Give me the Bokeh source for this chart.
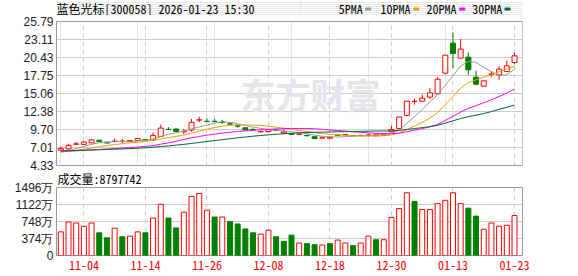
from bokeh.plotting import figure
from bokeh.layouts import column
from bokeh.models import (Range1d, FixedTicker, Label, Grid, ColumnDataSource,
                          NumeralTickFormatter, BoxAnnotation)
from bokeh.embed import file_html
from bokeh.resources import INLINE

# ---------------- data ----------------
dates = ["10-30", "10-31", "11-03", "11-04", "11-05", "11-06", "11-07", "11-10", "11-11", "11-12",
         "11-13", "11-14", "11-17", "11-18", "11-19", "11-20", "11-21", "11-24", "11-25", "11-26",
         "11-27", "11-28", "12-01", "12-02", "12-03", "12-04", "12-05", "12-08", "12-09", "12-10",
         "12-11", "12-12", "12-15", "12-16", "12-17", "12-18", "12-19", "12-22", "12-23", "12-24",
         "12-25", "12-26", "12-29", "12-30", "12-31", "01-05", "01-06", "01-07", "01-08", "01-09",
         "01-12", "01-13", "01-14", "01-15", "01-16", "01-19", "01-20", "01-21", "01-22", "01-23"]

opens = [6.62, 6.80, 7.50, 7.48, 7.70, 8.10, 7.80, 7.92, 7.93, 7.88,
         8.05, 8.20, 8.15, 8.67, 9.72, 9.77, 9.36, 9.62, 11.10, 10.92,
         10.92, 10.80, 10.55, 10.25, 9.95, 9.72, 9.35, 9.37, 9.62, 9.15,
         9.05, 8.98, 8.82, 8.62, 8.43, 8.40, 8.88, 8.90, 8.80, 8.78,
         8.84, 8.75, 8.85, 9.35, 9.85, 11.80, 13.88, 13.92, 14.52, 15.01,
         18.09, 22.56, 20.33, 20.48, 17.49, 16.15, 17.90, 17.84, 18.34, 19.68]
highs = [7.17, 7.58, 7.85, 7.95, 8.30, 8.15, 7.85, 8.35, 8.30, 8.10,
         8.40, 8.28, 9.24, 10.42, 10.05, 9.82, 9.77, 11.27, 11.60, 11.37,
         11.30, 11.15, 10.77, 10.50, 10.00, 9.85, 9.55, 9.80, 9.70, 9.70,
         9.10, 9.10, 8.95, 8.65, 8.50, 8.58, 8.92, 9.00, 8.85, 8.85,
         9.10, 8.95, 9.05, 10.24, 11.60, 13.95, 14.27, 14.91, 15.86, 17.50,
         20.80, 24.15, 23.21, 21.17, 18.49, 16.95, 18.34, 19.08, 19.93, 21.17]
lows = [6.55, 6.75, 7.40, 7.45, 7.65, 7.88, 7.60, 7.75, 7.65, 7.85,
        8.00, 8.05, 8.05, 8.60, 9.65, 9.35, 8.97, 9.37, 10.77, 10.85,
        10.80, 10.55, 10.30, 9.95, 9.60, 9.50, 9.25, 9.30, 9.45, 9.10,
        8.90, 8.85, 8.65, 8.30, 8.38, 8.38, 8.80, 8.85, 8.70, 8.75,
        8.65, 8.72, 8.82, 9.30, 9.80, 11.65, 13.40, 13.85, 14.22, 14.95,
        17.94, 18.84, 20.30, 17.84, 16.25, 16.15, 17.49, 17.10, 18.30, 19.40]
closes = [6.88, 7.33, 7.55, 7.82, 8.15, 7.92, 7.68, 7.96, 7.95, 8.05,
          8.35, 8.12, 8.82, 9.91, 9.70, 9.40, 9.42, 10.77, 11.14, 10.88,
          10.87, 10.77, 10.50, 10.20, 9.65, 9.68, 9.40, 9.67, 9.57, 9.35,
          8.95, 9.00, 8.77, 8.33, 8.46, 8.55, 8.84, 8.95, 8.75, 8.82,
          8.87, 8.90, 9.00, 9.68, 11.55, 13.92, 13.90, 14.37, 15.16, 17.20,
          20.77, 21.02, 21.67, 18.59, 16.45, 16.95, 17.96, 18.69, 19.18, 20.67]

ma5 = [6.35, 6.55, 6.85, 7.15, 7.50, 7.72, 7.80, 7.90, 7.92, 7.90,
       7.98, 8.08, 8.28, 8.65, 8.98, 9.20, 9.45, 9.82, 10.08, 10.35,
       10.62, 10.85, 10.78, 10.55, 10.30, 10.05, 9.85, 9.70, 9.58, 9.48,
       9.35, 9.25, 9.08, 8.85, 8.68, 8.60, 8.58, 8.62, 8.70, 8.77,
       8.84, 8.86, 8.88, 9.05, 9.60, 10.61, 11.61, 12.68, 13.78, 14.91,
       16.28, 17.70, 19.16, 19.85, 19.70, 18.94, 18.32, 17.73, 17.85, 18.69]
ma10 = [6.30, 6.45, 6.60, 6.76, 6.95, 7.12, 7.30, 7.45, 7.58, 7.70,
        7.80, 7.90, 8.08, 8.30, 8.50, 8.66, 8.88, 9.15, 9.45, 9.75,
        9.98, 10.18, 10.32, 10.38, 10.36, 10.35, 10.30, 10.18, 10.05, 9.90,
        9.72, 9.55, 9.40, 9.22, 9.08, 8.97, 8.90, 8.83, 8.76, 8.71,
        8.72, 8.72, 8.75, 8.88, 9.19, 9.70, 10.20, 10.75, 11.40, 12.20,
        13.40, 14.60, 15.85, 16.70, 17.10, 17.50, 17.85, 18.30, 18.70, 19.10]
ma20 = [6.45, 6.50, 6.52, 6.58, 6.64, 6.72, 6.78, 6.85, 6.92, 7.00,
        7.08, 7.17, 7.30, 7.50, 7.70, 7.95, 8.20, 8.45, 8.65, 8.85,
        9.00, 9.15, 9.28, 9.40, 9.50, 9.58, 9.65, 9.72, 9.78, 9.82,
        9.85, 9.85, 9.84, 9.80, 9.72, 9.62, 9.55, 9.45, 9.35, 9.28,
        9.20, 9.12, 9.08, 9.08, 9.15, 9.36, 9.59, 9.82, 10.10, 10.45,
        11.05, 11.65, 12.30, 12.85, 13.25, 13.68, 14.12, 14.61, 15.13, 15.73]
ma30 = [6.50, 6.53, 6.56, 6.60, 6.64, 6.68, 6.72, 6.76, 6.80, 6.85,
        6.90, 6.97, 7.05, 7.15, 7.25, 7.36, 7.48, 7.62, 7.76, 7.90,
        8.05, 8.18, 8.32, 8.46, 8.58, 8.70, 8.80, 8.90, 8.98, 9.06,
        9.13, 9.20, 9.25, 9.28, 9.30, 9.32, 9.36, 9.38, 9.40, 9.42,
        9.45, 9.47, 9.48, 9.50, 9.56, 9.70, 9.84, 9.97, 10.11, 10.32,
        10.65, 10.99, 11.33, 11.60, 11.83, 12.07, 12.37, 12.70, 13.00, 13.35]

# volume in 万 (10k)
volumes = [520, 737, 715, 643, 715, 499, 390, 600, 412, 426,
           520, 499, 824, 1127, 824, 607, 954, 1301, 1366, 997,
           846, 846, 744, 694, 585, 499, 470, 556, 412, 311,
           448, 275, 260, 238, 231, 260, 340, 275, 217, 275,
           426, 347, 347, 838, 1033, 1380, 1192, 1012, 1012, 1142,
           1214, 1380, 1142, 1041, 867, 578, 715, 643, 665, 879.7742]
vol_up = [1, 1, 1, 1, 1, 0, 0, 1, 0, 1,
          1, 0, 1, 1, 0, 0, 1, 1, 1, 1,
          0, 1, 0, 0, 0, 0, 1, 1, 0, 0,
          0, 1, 0, 0, 1, 0, 1, 1, 0, 1,
          1, 0, 1, 1, 1, 1, 0, 1, 1, 1,
          1, 1, 1, 0, 0, 1, 1, 1, 1, 1]

price_ticks = [4.33, 7.01, 9.70, 12.38, 15.06, 17.75, 20.43, 23.11, 25.79]
vol_ticks = [0, 374, 748, 1122, 1496]
date_ticks = ["11-04", "11-14", "11-26", "12-08", "12-18", "12-30", "01-13", "01-23"]
title_text = "蓝色光标[300058] 2026-01-23 15:30"
ma_names = ["5PMA", "10PMA", "20PMA", "30PMA"]
ma_colors = ["#999999", "#f0a000", "#ff00ff", "#006633"]
volume_text = "成交量:8797742"

# ---------------- styling ----------------
RED = "#ff0000"
GREEN = "#008000"
GRID = "#cccccc"
FRAME = "#999999"
W = 578
LEFT = 56
RIGHT = 56
CJK = "Noto Sans CJK SC"
MONO = "Noto Sans Mono CJK SC"
NUM = "Liberation Sans"

n = len(dates)
xs = list(range(n))
tick_idx = [dates.index(d) for d in date_ticks]
x_range = Range1d(-0.56, n + 0.04)

# ---------------- header (title + MA legend) ----------------
# header x axis is in page pixels so the texts line up with the panels below
HEAD_H = 15
h = figure(width=W, height=HEAD_H, x_range=Range1d(LEFT, W - RIGHT), y_range=Range1d(HEAD_H, 0),
           x_axis_location=None, y_axis_location=None, toolbar_location=None,
           output_backend="svg", min_border_left=LEFT, min_border_right=RIGHT,
           min_border_top=0, min_border_bottom=0, title_location=None)
h.outline_line_color = None
h.background_fill_color = "white"
h.border_fill_color = "white"
h.add_layout(Label(x=56, y=8.3, text=title_text, text_font=MONO, text_font_size="12px",
                   text_color="#000000", text_baseline="middle"))
leg_text_x = [338.3, 380, 426, 471.7]
leg_mark_x = [364.7, 412.7, 458.7, 504]
for name, c, tx, mx in zip(ma_names, ma_colors, leg_text_x, leg_mark_x):
    h.add_layout(Label(x=tx, y=8.3, text=name, text_font=MONO, text_font_size="12px",
                       text_color="#000000", text_baseline="middle"))
    h.add_layout(BoxAnnotation(left=mx, right=mx + 6, top=7, bottom=10, fill_color=c,
                               fill_alpha=1, line_color=None))

# ---------------- price panel ----------------
up = [c >= o for o, c in zip(opens, closes)]
csrc = ColumnDataSource(dict(
    x=xs, h=highs, l=lows,
    top=[max(o, c) for o, c in zip(opens, closes)],
    bot=[min(o, c) for o, c in zip(opens, closes)],
    col=[RED if u else GREEN for u in up],
    fill=["white" if u else GREEN for u in up],
))

p = figure(width=W, height=156, x_range=x_range,
           y_range=Range1d(price_ticks[0], price_ticks[-1]),
           x_axis_location=None, toolbar_location=None, output_backend="svg",
           min_border_left=LEFT, min_border_right=RIGHT, min_border_top=6, min_border_bottom=6,
           title_location=None)
p.outline_line_color = FRAME
p.outline_line_width = 1
p.background_fill_color = "white"
p.border_fill_color = "white"
p.yaxis.ticker = FixedTicker(ticks=price_ticks)
p.yaxis.formatter = NumeralTickFormatter(format="0.00")
p.yaxis.major_tick_in = 0
p.yaxis.major_tick_out = 0
p.yaxis.minor_tick_line_color = None
p.yaxis.axis_line_color = None
p.yaxis.major_label_standoff = 3
p.yaxis.major_label_text_font = NUM
p.yaxis.major_label_text_font_size = "12px"
p.yaxis.major_label_text_color = "#222222"
p.ygrid.grid_line_color = GRID
p.add_layout(Grid(dimension=0, ticker=FixedTicker(ticks=tick_idx),
                  grid_line_color=GRID, grid_line_dash="4 4"))

# watermark
p.add_layout(Label(x=184, y=72, x_units="screen", y_units="screen", text="东方财富",
                   text_font=CJK, text_font_size="35px", text_font_style="bold",
                   text_color="#e6e6ea", text_baseline="middle", level="underlay"))

p.segment(x0="x", y0="h", x1="x", y1="l", line_color="col", line_width=1, source=csrc)
p.vbar(x="x", width=0.65, top="top", bottom="bot", fill_color="fill",
       line_color="col", line_width=1, source=csrc)

for ma, c in zip([ma5, ma10, ma20, ma30], ma_colors):
    p.line(xs, ma, line_color=c, line_width=1)

# ---------------- volume panel ----------------
vsrc = ColumnDataSource(dict(
    x=xs, v=volumes,
    col=[RED if u else GREEN for u in vol_up],
    fill=["white" if u else GREEN for u in vol_up],
))
v = figure(width=W, height=105, x_range=x_range, y_range=Range1d(vol_ticks[0], vol_ticks[-1]),
           toolbar_location=None, output_backend="svg",
           min_border_left=LEFT, min_border_right=RIGHT, min_border_top=15, min_border_bottom=21)
v.title.text = volume_text
v.title.align = "left"
v.title.vertical_align = "top"
v.title.text_font = MONO
v.title.text_font_size = "12px"
v.title.text_font_style = "normal"
v.title.text_color = "#000000"
v.title.standoff = -3
v.title.offset = 1
v.outline_line_color = FRAME
v.background_fill_color = "white"
v.border_fill_color = "white"
v.vbar(x="x", width=0.65, top="v", bottom=0, fill_color="fill", line_color="col",
       line_width=1, source=vsrc)
v.xaxis.ticker = FixedTicker(ticks=tick_idx)
v.xaxis.major_label_overrides = {i: d for i, d in zip(tick_idx, date_ticks)}
v.xaxis.major_tick_in = 0
v.xaxis.major_tick_out = 0
v.xaxis.minor_tick_line_color = None
v.xaxis.axis_line_color = None
v.xaxis.major_label_standoff = 5
v.xaxis.major_label_text_font = MONO
v.xaxis.major_label_text_font_size = "12px"
v.xaxis.major_label_text_color = RED
v.xgrid.grid_line_color = GRID
v.xgrid.grid_line_dash = "4 4"
v.yaxis.ticker = FixedTicker(ticks=vol_ticks)
v.yaxis.major_label_overrides = {t: (f"{t}万" if t else "0") for t in vol_ticks}
v.yaxis.major_tick_in = 0
v.yaxis.major_tick_out = 0
v.yaxis.minor_tick_line_color = None
v.yaxis.axis_line_color = None
v.yaxis.major_label_standoff = 3
v.yaxis.major_label_text_font = NUM
v.yaxis.major_label_text_font_size = "12px"
v.yaxis.major_label_text_color = "#222222"
v.ygrid.grid_line_color = GRID

layout = column(h, p, v, spacing=0)
open("out.html", "w").write(file_html(layout, INLINE))
